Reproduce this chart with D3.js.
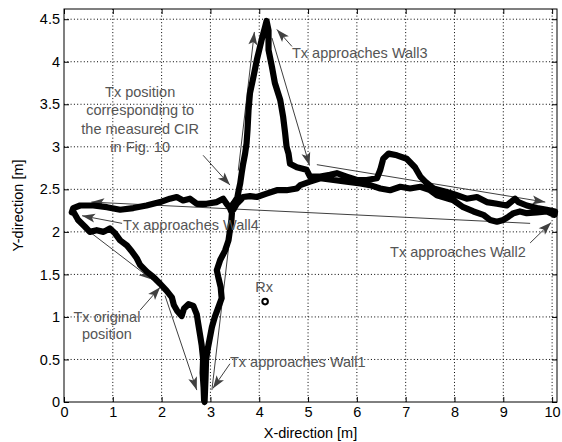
<!DOCTYPE html>
<html>
<head>
<meta charset="utf-8">
<script src="https://cdn.jsdelivr.net/npm/d3@7"></script>
<style>
  body { margin: 0; background: #fff; }
  text { font-family: "Liberation Sans", Arial, sans-serif; }
</style>
</head>
<body>
<div id="chart"></div>
<script>
// trajectory of the Tx (one closed walk)
var trackX = [0.19,0.29,0.43,0.53,0.67,0.81,0.94,1.05,1.15,1.29,1.39,1.49,1.56,1.70,1.83,1.97,2.10,2.21,2.25,2.32,2.41,2.46,2.55,2.65,2.72,2.75,2.79,2.82,2.85,2.84,2.86,2.87,
  2.88,2.90,2.91,2.94,2.99,3.03,3.09,3.16,3.23,3.21,3.16,3.13,3.20,3.30,3.37,3.40,3.43,3.44,3.40,3.48,3.55,3.58,3.61,3.64,3.67,3.71,3.74,3.76,3.78,3.81,3.88,3.95,4.05,4.12,4.15,
  4.19,4.19,4.26,4.32,4.43,4.49,4.53,4.56,4.60,4.63,4.77,4.97,5.04,5.25,5.45,5.59,5.79,6.00,6.20,6.41,6.48,6.54,6.65,6.82,7.02,7.19,7.30,7.40,7.57,7.84,8.05,8.25,8.46,8.66,8.87,9.07,9.24,9.31,9.48,9.69,9.89,10.06,
  10.05,9.89,9.69,9.48,9.34,9.21,9.11,9.00,8.87,8.73,8.59,8.39,8.18,7.98,7.64,7.50,7.30,7.09,6.89,6.68,6.48,6.27,6.07,5.79,5.52,5.25,5.04,4.84,4.77,4.56,4.36,4.15,3.95,3.81,3.67,3.61,3.54,3.47,3.40,3.33,3.26,3.13,2.92,2.72,2.58,2.44,2.31,2.17,1.97,1.69,1.42,1.15,0.88,0.60,0.33,0.19,0.16,0.19];
var trackY = [2.24,2.14,2.06,2.00,2.02,2.00,2.04,1.98,1.90,1.84,1.77,1.69,1.61,1.53,1.47,1.39,1.31,1.23,1.14,1.07,1.01,1.10,1.15,1.13,1.03,0.92,0.78,0.67,0.51,0.34,0.17,0.02,
  0.00,0.29,0.49,0.61,0.76,0.88,1.00,1.11,1.22,1.35,1.47,1.55,1.67,1.78,1.90,2.02,2.14,2.22,2.28,2.34,2.40,2.49,2.57,2.69,2.80,2.92,3.04,3.20,3.43,3.63,3.82,4.02,4.26,4.41,4.48,
  4.37,4.14,3.94,3.75,3.55,3.35,3.16,3.00,2.92,2.80,2.76,2.73,2.65,2.65,2.67,2.69,2.65,2.61,2.61,2.63,2.73,2.86,2.92,2.90,2.86,2.76,2.65,2.59,2.51,2.47,2.43,2.39,2.41,2.35,2.33,2.31,2.39,2.35,2.31,2.28,2.26,2.24,
  2.20,2.24,2.23,2.22,2.24,2.22,2.18,2.14,2.12,2.14,2.20,2.24,2.29,2.37,2.43,2.49,2.53,2.51,2.53,2.49,2.51,2.55,2.57,2.59,2.61,2.63,2.59,2.55,2.51,2.49,2.49,2.45,2.41,2.42,2.41,2.37,2.33,2.26,2.28,2.33,2.39,2.35,2.33,2.33,2.39,2.37,2.41,2.39,2.35,2.31,2.28,2.26,2.29,2.31,2.31,2.28,2.23,2.24];

// direction arrows along the walk [x1, y1, x2, y2]
var moveArrows = [
  [0.23, 2.13, 1.80, 1.44],
  [2.07, 1.25, 2.72, 0.14],
  [3.57, 2.72, 3.90, 4.35],
  [4.26, 4.28, 5.03, 2.78],
  [5.18, 2.79, 9.86, 2.35],
  [9.55, 2.10, 0.56, 2.35]
];
var plainLines = [[3.42, 2.05, 3.03, 0.14]];

// annotation arrows [x1, y1, x2, y2]
var noteArrows = [
  [2.85, 2.90, 3.40, 2.55],
  [4.67, 4.18, 4.36, 4.38],
  [9.55, 1.87, 9.98, 2.11],
  [1.19, 2.10, 0.37, 2.19],
  [1.56, 1.08, 1.97, 1.35],
  [3.40, 0.45, 3.05, 0.16]
];
// annotation texts [text, x, y, anchor]
var notes = [
  ["Tx position", 1.56, 3.64, "middle"],
  ["corresponding to", 1.56, 3.43, "middle"],
  ["the measured CIR", 1.56, 3.21, "middle"],
  ["in Fig. 10", 1.56, 3.00, "middle"],
  ["Tx approaches Wall3", 4.67, 4.10, "start"],
  ["Tx approaches Wall2", 6.68, 1.76, "start"],
  ["Tx approaches Wall4", 1.21, 2.08, "start"],
  ["Tx original", 0.88, 1.00, "middle"],
  ["position", 0.88, 0.80, "middle"],
  ["Tx approaches Wall1", 3.40, 0.47, "start"],
  ["Rx", 4.10, 1.35, "middle"]
];
var rx = [4.12, 1.18];

var xTicks = [0,1,2,3,4,5,6,7,8,9,10];
var yTicks = [0,0.5,1,1.5,2,2.5,3,3.5,4,4.5];

var width = 562, height = 442;
var plotL = 64, plotR = 557, plotT = 9, plotB = 402;
var fs = 14.5;

var x = d3.scaleLinear().domain([0, 10.1]).range([plotL, plotR]);
var y = d3.scaleLinear().domain([0, 4.62]).range([plotB, plotT]);

var svg = d3.select("#chart").append("svg")
    .attr("width", width)
    .attr("height", height);

var defs = svg.append("defs");
defs.append("marker")
    .attr("id", "head")
    .attr("markerUnits", "userSpaceOnUse")
    .attr("viewBox", "-14 -5 15 10")
    .attr("markerWidth", 15).attr("markerHeight", 10)
    .attr("refX", 0).attr("refY", 0)
    .attr("orient", "auto")
  .append("path")
    .attr("d", "M0,0L-13,-4.5L-10,0L-13,4.5Z")
    .attr("fill", "#404040");

// grid
svg.append("g").selectAll("line").data(xTicks.slice(1)).enter().append("line")
    .attr("x1", d => x(d)).attr("x2", d => x(d))
    .attr("y1", plotT).attr("y2", plotB)
    .attr("stroke", "#000").attr("stroke-dasharray", "1,2.3");
svg.append("g").selectAll("line").data(yTicks.slice(1)).enter().append("line")
    .attr("y1", d => y(d)).attr("y2", d => y(d))
    .attr("x1", plotL).attr("x2", plotR)
    .attr("stroke", "#000").attr("stroke-dasharray", "1,2.3");

// axes (inward ticks on all sides)
var gx = svg.append("g").attr("transform", "translate(0," + plotB + ")")
    .call(d3.axisBottom(x).tickValues(xTicks).tickSizeInner(-5).tickSizeOuter(0).tickPadding(5).tickFormat(d3.format("d")));
var gy = svg.append("g").attr("transform", "translate(" + plotL + ",0)")
    .call(d3.axisLeft(y).tickValues(yTicks).tickSizeInner(-5).tickSizeOuter(0).tickPadding(4).tickFormat(d => d));
var gt = svg.append("g").attr("transform", "translate(0," + plotT + ")")
    .call(d3.axisTop(x).tickValues(xTicks).tickSizeInner(-5).tickSizeOuter(0).tickFormat(""));
var gr = svg.append("g").attr("transform", "translate(" + plotR + ",0)")
    .call(d3.axisRight(y).tickValues(yTicks).tickSizeInner(-5).tickSizeOuter(0).tickFormat(""));
[gx, gy, gt, gr].forEach(function(g) {
  g.select(".domain").remove();
  g.selectAll("text").attr("font-size", fs).attr("fill", "#000")
    .style("font-family", "'Liberation Sans', Arial, sans-serif");
  g.selectAll("line").attr("stroke", "#000");
});
svg.append("rect")
    .attr("x", plotL).attr("y", plotT)
    .attr("width", plotR - plotL).attr("height", plotB - plotT)
    .attr("fill", "none").attr("stroke", "#000");

// thin arrows
svg.append("g").selectAll("line").data(moveArrows.concat(noteArrows)).enter().append("line")
    .attr("x1", d => x(d[0])).attr("y1", d => y(d[1]))
    .attr("x2", d => x(d[2])).attr("y2", d => y(d[3]))
    .attr("stroke", "#404040").attr("stroke-width", 1)
    .attr("marker-end", "url(#head)");
svg.append("g").selectAll("line").data(plainLines).enter().append("line")
    .attr("x1", d => x(d[0])).attr("y1", d => y(d[1]))
    .attr("x2", d => x(d[2])).attr("y2", d => y(d[3]))
    .attr("stroke", "#404040").attr("stroke-width", 1);

// trajectory
var line = d3.line().x(d => x(d[0])).y(d => y(d[1]));
svg.append("path")
    .datum(d3.zip(trackX, trackY))
    .attr("d", line)
    .attr("fill", "none")
    .attr("stroke", "#000")
    .attr("stroke-width", 6.2)
    .attr("stroke-linejoin", "round")
    .attr("stroke-linecap", "round");

// Rx marker
svg.append("circle")
    .attr("cx", x(rx[0])).attr("cy", y(rx[1])).attr("r", 2.8)
    .attr("fill", "#fff").attr("stroke", "#000").attr("stroke-width", 2);

// annotation texts
svg.append("g").selectAll("text").data(notes).enter().append("text")
    .attr("x", d => x(d[1])).attr("y", d => y(d[2]))
    .attr("dy", "0.35em")
    .attr("text-anchor", d => d[3])
    .attr("font-size", fs)
    .attr("fill", "#555")
    .text(d => d[0]);

// axis titles
svg.append("text")
    .attr("x", (plotL + plotR) / 2).attr("y", 438)
    .attr("text-anchor", "middle").attr("font-size", fs)
    .text("X-direction [m]");
svg.append("text")
    .attr("transform", "translate(18," + (plotT + plotB) / 2 + ") rotate(-90)")
    .attr("dy", "0.35em")
    .attr("text-anchor", "middle").attr("font-size", fs)
    .text("Y-direction [m]");
</script>
</body>
</html>
